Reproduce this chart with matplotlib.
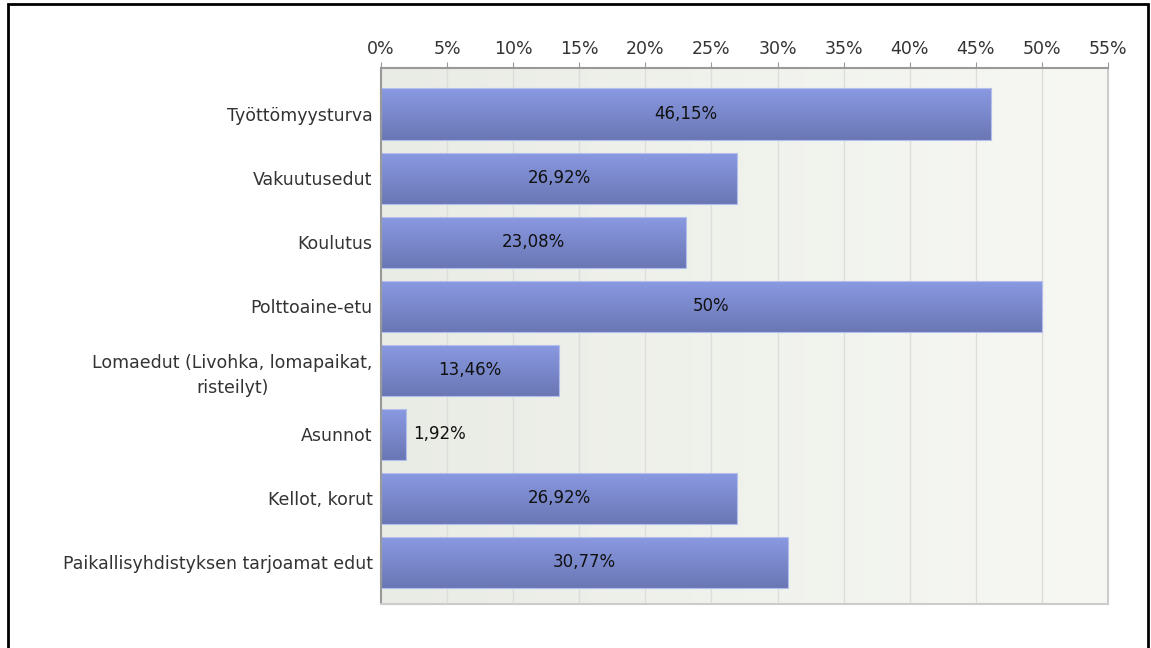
import numpy as np
import matplotlib.pyplot as plt
from matplotlib.colors import LinearSegmentedColormap
from matplotlib.patches import Rectangle

categories = [
    "Työttömyysturva",
    "Vakuutusedut",
    "Koulutus",
    "Polttoaine-etu",
    "Lomaedut (Livohka, lomapaikat,\nristeilyt)",
    "Asunnot",
    "Kellot, korut",
    "Paikallisyhdistyksen tarjoamat edut",
]
values = [46.15, 26.92, 23.08, 50, 13.46, 1.92, 26.92, 30.77]
value_labels = ["46,15%", "26,92%", "23,08%", "50%", "13,46%", "1,92%", "26,92%", "30,77%"]
ticks = list(range(0, 60, 5))

plt.rcParams["font.family"] = "DejaVu Sans"

fig = plt.figure(figsize=(11.51, 6.48), dpi=100)
ax = fig.add_axes([381 / 1151, 1 - 604 / 648, 727 / 1151, 536 / 648])

# outer frame
fig.patches.append(Rectangle((8 / 1151, -0.01), 1140 / 1151, 1 - 4 / 648 + 0.01,
                             transform=fig.transFigure, fill=False,
                             edgecolor="black", linewidth=2))

xmax = 55
y = np.arange(len(categories))
ax.set_xlim(0, xmax)
ax.set_ylim(len(categories) - 0.35, -0.72)

# plot area background, light horizontal gradient
bg = LinearSegmentedColormap.from_list("bg", ["#e9ece4", "#f7f8f4"])
ax.imshow(np.linspace(0, 1, 256).reshape(1, -1), cmap=bg, aspect="auto",
          extent=[0, xmax, len(categories) - 0.35, -0.72], zorder=0)

for t in ticks[1:-1]:
    ax.axvline(t, color="#dcdedb", linewidth=1, zorder=1)

# bars with a vertical gradient fill
bar_cmap = LinearSegmentedColormap.from_list("bar", ["#8a9ae2", "#6a77b5"])
bars = ax.barh(y, values, height=0.8, color="none", edgecolor="#b4beec",
               linewidth=0.8, zorder=3)
for rect in bars:
    x0, y0 = rect.get_x(), rect.get_y()
    w, h = rect.get_width(), rect.get_height()
    im = ax.imshow(np.linspace(0, 1, 64).reshape(-1, 1), cmap=bar_cmap,
                   aspect="auto", extent=[x0, x0 + w, y0 + h, y0], zorder=2)
    im.set_clip_path(rect)

for yi, v, lab in zip(y, values, value_labels):
    if v < 5:
        ax.text(v + 0.5, yi, lab, ha="left", va="center", fontsize=12,
                color="#111111", zorder=4)
    else:
        ax.text(v / 2, yi, lab, ha="center", va="center", fontsize=12,
                color="#111111", zorder=4)

ax.set_yticks(y)
ax.set_yticklabels(categories, fontsize=12.5, color="#333333",
                   multialignment="center", linespacing=1.45)
ax.tick_params(axis="y", length=0, pad=6)

ax.set_xticks(ticks)
ax.set_xticklabels([f"{t}%" for t in ticks], fontsize=12.5, color="#333333")
ax.xaxis.tick_top()
ax.tick_params(axis="x", length=4, color="#999999", pad=3)

ax.spines["top"].set_color("#999999")
ax.spines["left"].set_color("#999999")
ax.spines["right"].set_color("#cccccc")
ax.spines["bottom"].set_color("#cccccc")
for s in ax.spines.values():
    s.set_linewidth(1.5)
    s.set_zorder(5)

fig.savefig("out.png", dpi=100)
